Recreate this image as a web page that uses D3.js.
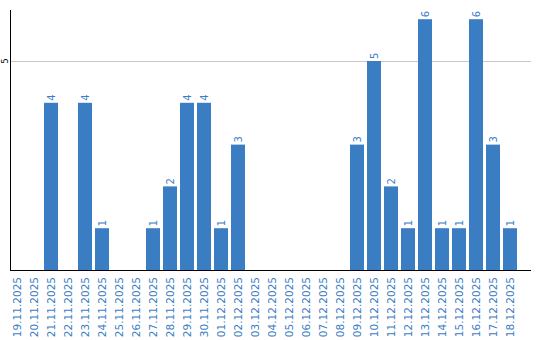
<!DOCTYPE html>
<html><head><meta charset="utf-8">
<script src="https://cdn.jsdelivr.net/npm/d3@7"></script>
<style>body{margin:0;background:#fff}svg{display:block}</style>
</head><body>
<svg id="c" width="540" height="340"></svg>
<script>
const dates = ["19.11.2025","20.11.2025","21.11.2025","22.11.2025","23.11.2025","24.11.2025","25.11.2025","26.11.2025","27.11.2025","28.11.2025","29.11.2025","30.11.2025","01.12.2025","02.12.2025","03.12.2025","04.12.2025","05.12.2025","06.12.2025","07.12.2025","08.12.2025","09.12.2025","10.12.2025","11.12.2025","12.12.2025","13.12.2025","14.12.2025","15.12.2025","16.12.2025","17.12.2025","18.12.2025"];
const counts = [0,0,4,0,4,1,0,0,1,2,4,4,1,3,0,0,0,0,0,0,3,5,2,1,6,1,1,6,3,1];
const yTicks = [5];

const svg = d3.select("#c");
const color = "#3b7dc3";
const x = d3.scaleBand().domain(dates).range([10, 520]).padding(0);
const bw = x.bandwidth() - 3;
const y = d3.scaleLinear().domain([0, 5]).range([270, 61]);

// gridline
svg.selectAll("line.grid").data(yTicks).join("line")
  .attr("x1", 11).attr("x2", 531).attr("y1", d => y(d)+0.5).attr("y2", d => y(d)+0.5)
  .attr("stroke", "#c8c8c8").attr("stroke-width", 1);

// y tick labels
svg.selectAll("text.yt").data(yTicks).join("text")
  .attr("transform", d => `translate(8,${y(d)}) rotate(-90)`)
  .attr("text-anchor", "middle").attr("font-family", "DejaVu Sans").attr("font-size", 8)
  .attr("fill", "#000").text(d => d);

// bars
const data = dates.map((d, i) => ({d, v: counts[i]}));
svg.selectAll("rect.bar").data(data.filter(e => e.v > 0)).join("rect")
  .attr("x", e => x(e.d)).attr("width", bw)
  .attr("y", e => y(e.v)).attr("height", e => y(0) - y(e.v))
  .attr("fill", color);

// value labels
svg.selectAll("text.val").data(data.filter(e => e.v > 0)).join("text")
  .attr("transform", e => `translate(${x(e.d) + bw/2 + 3.5},${y(e.v) - 2}) rotate(-90)`)
  .attr("text-anchor", "start").attr("font-family", "DejaVu Sans").attr("font-size", 10)
  .attr("fill", color).text(e => e.v);

// axes lines
svg.append("line").attr("x1", 10.5).attr("x2", 10.5).attr("y1", 10).attr("y2", 271).attr("stroke", "#000");
svg.append("line").attr("x1", 10).attr("x2", 531).attr("y1", 270.5).attr("y2", 270.5).attr("stroke", "#000");

// x labels
const xAxis = d3.axisBottom(x).tickSize(0).tickPadding(0);
const gx = svg.append("g").attr("transform", "translate(-1.5,270)").call(xAxis);
gx.select(".domain").remove();
gx.selectAll("text")
  .attr("transform", "rotate(-90)")
  .attr("x", -7).attr("y", 0).attr("dy", "0.35em").attr("dx", 0)
  .attr("text-anchor", "end")
  .attr("font-family", "DejaVu Sans").attr("font-size", 10.5)
  .attr("fill", color);
</script>
</body></html>
